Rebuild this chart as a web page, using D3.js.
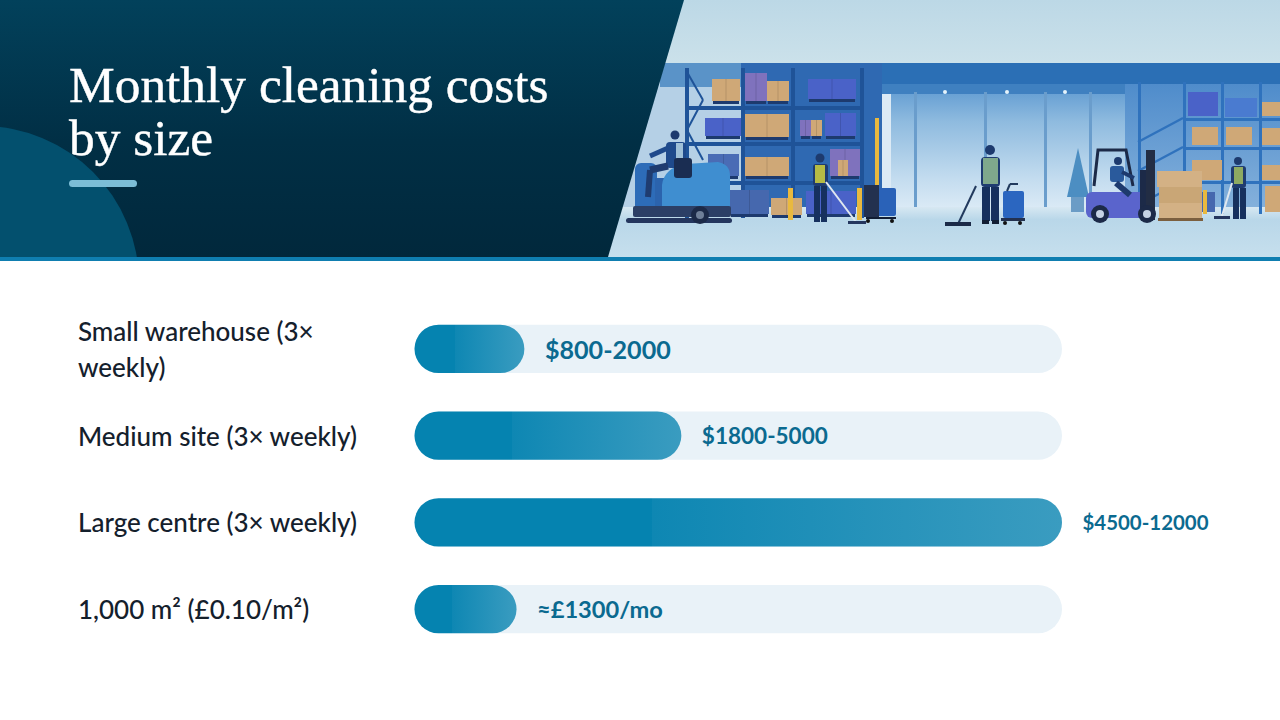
<!DOCTYPE html>
<html><head><meta charset="utf-8">
<script src="https://cdnjs.cloudflare.com/ajax/libs/d3/7.8.5/d3.min.js"></script>
<style>html,body{margin:0;padding:0;background:#fff}svg{display:block}</style>
</head><body><svg id="c" width="1280" height="720"></svg>
<script>
const titleLines = ["Monthly cleaning costs", "by size"];
const categories = ["Small warehouse (3× weekly)", "Medium site (3× weekly)", "Large centre (3× weekly)", "1,000 m² (£0.10/m²)"];
const values = [1400, 3400, 8250, 1300];
const valueLabels = ["$800-2000", "$1800-5000", "$4500-12000", "≈£1300/mo"];

const svg = d3.select("#c");
const defs = svg.append("defs");
function grad(id, x2, y2, stops){
  const g = defs.append("linearGradient").attr("id", id).attr("x1",0).attr("y1",0).attr("x2",x2).attr("y2",y2);
  stops.forEach(s => g.append("stop").attr("offset", s[0]).attr("stop-color", s[1]));
}
grad("hdr",0,1,[[0,"#02415b"],[0.55,"#012f45"],[1,"#01283c"]]);
grad("sky",0,1,[[0,"#bcd8e6"],[1,"#cbe1ea"]]);
grad("glass",0,1,[[0,"#5c98d0"],[0.3,"#8fbbdf"],[0.75,"#c3dcef"],[1,"#dcebf6"]]);
grad("floor",0,1,[[0,"#d7e8f2"],[0.25,"#b9d7e9"],[1,"#c6dfed"]]);
grad("rackbg",0,1,[[0,"#4f8ccb"],[1,"#86b2dc"]]);
grad("bar",1,0,[[0,"#0583b0"],[0.366,"#0583b0"],[0.367,"#0e87b3"],[1,"#3a9cc0"]]);
defs.append("clipPath").attr("id","hclip").append("polygon").attr("points","0,0 684,0 608,257 0,257");

// ---- header illustration (decoration) ----
const sc = svg.append("g");
const R = (x,y,w,h,f,r) => sc.append("rect").attr("x",x).attr("y",y).attr("width",w).attr("height",h).attr("fill",f).attr("rx",r||0);
const L = (x1,y1,x2,y2,c,w) => sc.append("line").attr("x1",x1).attr("y1",y1).attr("x2",x2).attr("y2",y2).attr("stroke",c).attr("stroke-width",w);
const C = (x,y,r,f) => sc.append("circle").attr("cx",x).attr("cy",y).attr("r",r).attr("fill",f);
const TAN="#cfa877", BLU="#4a62c8", PUR="#7f72bd", STEEL="#1f5398", NAVY="#1d3a6e", Y="#e9b93f";
R(600,0,680,63,"url(#sky)");
R(600,63,142,150,"#b5d0e6");
R(660,63,81,24,"#5a93c8");
R(741,63,141,152,"#2f69b2");
R(882,63,398,21,"#2b6fb5");
R(882,84,398,126,"url(#glass)");
R(882,84,9,126,"#dceaf5");
R(882,84,398,10,"#3f80c0");
[914,984,1044,1089].forEach(x=>R(x,92,3,115,"#6a9dcc"));
[950,1012,1070].forEach(x=>C(x-5,92,2,"#e6f3fb"));
R(1125,84,155,128,"url(#rackbg)");
R(600,207,680,50,"url(#floor)");
// left rack
[685,741,791,860].forEach(x=>R(x,68,4,150,STEEL));
[106,142,181].forEach(y=>R(685,y,179,4,STEEL));
L(687,72,703,100,STEEL,2);L(703,100,687,130,STEEL,2);L(687,130,703,160,STEEL,2);
[[712,79,28,22,TAN],[745,73,22,28,PUR],[767,81,22,20,TAN],[808,79,48,20,BLU],
 [705,118,36,18,BLU],[745,114,44,23,TAN],[800,120,11,16,PUR],[811,120,11,16,TAN],[825,113,31,23,BLU],
 [708,154,31,22,"#4a6cb5"],[745,157,44,19,TAN],[830,149,30,27,PUR],[838,160,10,16,TAN],
 [730,190,39,24,"#4668ae"],[771,198,31,17,TAN],[806,191,50,23,BLU]].forEach(b=>{
  R(b[0],b[1],b[2],b[3],b[4]);
  R(b[0]+1,b[1]+b[3],b[2]-2,3,NAVY);
  L(b[0]+b[2]/2,b[1],b[0]+b[2]/2,b[1]+b[3],"#000",0.5).attr("opacity",0.25);
});
R(875,118,4,68,Y);R(788,188,5,32,Y);R(857,188,5,32,Y);
// right rack
[1138,1183,1221,1259].forEach(x=>R(x,82,3,132,"#2f72bd"));
[118,147,181].forEach(y=>{R(1183,y,97,3,"#2f72bd");L(1138,y+24,1183,y,"#2f72bd",2.5);});
[[1188,92,30,24,BLU],[1225,98,32,19,"#4a7bd0"],[1262,102,18,14,TAN],
 [1192,127,26,18,TAN],[1226,127,26,18,TAN],[1262,128,18,17,TAN],
 [1192,160,30,20,TAN],[1262,165,18,15,TAN],[1265,186,15,26,TAN],[1190,192,25,20,"#4668ae"]].forEach(b=>R(b[0],b[1],b[2],b[3],b[4]));
R(1203,190,4,24,Y);
// scrubber
R(626,218,106,5,"#24365e",2.5);
R(635,163,22,50,"#2d6cb8",6);
R(655,178,30,38,"#2b63ad");
sc.append("path").attr("d","M662,215 L662,185 Q664,168 685,164 L718,162 Q730,164 730,176 L730,215 Z").attr("fill","#3f8ed0");
R(633,206,98,11,"#2c3f66",2);
C(700,215,9,"#1c2a48");C(700,215,4,"#6f7f98");
C(675,135,4.5,"#1d3a6e");
R(666,142,20,26,"#1f4a8c",4);R(676,143,7,22,"#9fc0d8");
L(668,148,650,156,"#1f4a8c",5);
L(668,166,650,170,"#1f3c70",7);L(650,170,648,197,"#1f3c70",6);
R(674,158,18,20,"#1a2d52",3);
// worker 1
C(820,158,4.5,"#1d3a6e");
R(813,164,15,22,"#1f3c70",3);R(815,165,10,18,"#b5bb45");
R(814,186,6,36,"#16305e");R(821,186,6,36,"#16305e");
L(826,182,856,222,"#dfe7ef",2);R(848,221,18,3,"#24365e");
// janitor cart
R(868,188,28,28,"#2a62b8",2);R(864,185,15,32,"#23314f");R(866,217,30,2,"#111d33");
C(868,221,2,"#111");C(892,221,2,"#111");
// worker 2
C(990,150,5,"#1d3a6e");
R(981,157,19,30,"#1f3c70",4);R(983,158,15,26,"#7fa88c");
R(982,187,8,34,"#16305e");R(991,187,8,34,"#16305e");
R(982,220,7,4,"#111d33");R(992,220,7,4,"#111d33");
L(976,186,958,224,"#223a5e",2);R(945,222,26,4,"#1b2a48");
R(1003,191,21,27,"#2b66c0",2);L(1007,191,1010,184,"#223a5e",2);L(1018,184,1010,184,"#223a5e",2);R(1001,218,24,3,"#23314f");
C(1005,223,2,"#111");C(1020,223,2,"#111");
// plant
R(1071,196,13,16,"#6b9cc6");
sc.append("polygon").attr("points","1078,148 1089,197 1067,197").attr("fill","#4c8ec2");
// forklift
sc.append("path").attr("d","M1094,186 L1098,150 L1126,150 L1133,186").attr("fill","none").attr("stroke","#1c2a48").attr("stroke-width",3);
R(1086,192,60,26,"#5a64cc",6);R(1140,170,14,48,"#1c2a48");R(1146,150,9,70,"#222d44");
C(1118,161,4,"#1d3a6e");R(1110,166,14,16,"#2a5a9c",3);L(1122,172,1134,178,"#1d3a6e",4);L(1116,183,1130,195,"#1d3a6e",6);
C(1100,214,9,"#1c2a48");C(1100,214,4,"#c6d3e4");C(1147,214,9,"#1c2a48");C(1147,214,4,"#c6d3e4");
// boxes on pallet
R(1157,171,45,16,"#d3b185");R(1159,187,43,16,"#c9a676");R(1159,203,43,15,"#d3b185");R(1158,218,45,3,"#7b5f3f");
// worker 3
C(1238,161,4,"#1d3a6e");
R(1231,166,15,22,"#1f3c70",3);R(1234,167,9,17,"#8eaa62");
R(1233,188,6,31,"#16305e");R(1240,188,6,31,"#16305e");
L(1232,183,1222,216,"#dfe7ef",2);R(1214,216,16,3,"#24365e");

// ---- dark panel ----
const h = svg.append("g");
h.append("polygon").attr("points","0,0 684,0 608,257 0,257").attr("fill","url(#hdr)");
h.append("circle").attr("cx",-18).attr("cy",283).attr("r",157).attr("fill","#03506e").attr("clip-path","url(#hclip)");
svg.append("rect").attr("x",0).attr("y",257).attr("width",1280).attr("height",4).attr("fill","#0f7eb0");

const title = h.append("text").attr("fill","#fff").attr("font-family","'Liberation Serif',serif").attr("font-size",51.4).attr("stroke","#fff").attr("stroke-width",0.4);
titleLines.forEach((t,i)=>title.append("tspan").attr("x",69).attr("y",102+i*53).text(t));
h.append("rect").attr("x",69).attr("y",180).attr("width",68).attr("height",7).attr("rx",3.5).attr("fill","#7cbdd6");

// ---- chart ----
const x = d3.scaleLinear().domain([0, d3.max(values)]).range([414.5, 1062]);
const y = d3.scaleBand().domain(categories).range([305.5, 652.5]).paddingInner(0.4444).paddingOuter(0.2222);
const rows = categories.map((c,i)=>({c, v:values[i], t:valueLabels[i]}));

const plot = svg.append("g");
plot.selectAll("rect.track").data(rows).join("rect").attr("class","track")
  .attr("x",x(0)).attr("y",d=>y(d.c)).attr("width",x.range()[1]-x(0)).attr("height",y.bandwidth())
  .attr("rx",y.bandwidth()/2).attr("fill","#e9f2f8");
plot.selectAll("rect.bar").data(rows).join("rect").attr("class","bar")
  .attr("x",x(0)).attr("y",d=>y(d.c)).attr("width",d=>x(d.v)-x(0)).attr("height",y.bandwidth())
  .attr("rx",y.bandwidth()/2).attr("fill","url(#bar)");

const axis = d3.axisLeft(y).tickSize(0).tickPadding(0);
const ag = svg.append("g").attr("transform","translate(78,0)").call(axis);
ag.select(".domain").remove();
ag.selectAll("text").attr("text-anchor","start").attr("x",0).attr("dy",null)
  .attr("dominant-baseline","central")
  .attr("font-family","Lato,sans-serif").attr("font-size",26).attr("font-weight",500).attr("fill","#14202c")
  .each(function(d){
    const m = d.match(/^(Small warehouse \(3×) (weekly\))$/);
    if(m){
      const s = d3.select(this).text("");
      s.append("tspan").attr("x",0).attr("dy","-0.69em").text(m[1]);
      s.append("tspan").attr("x",0).attr("dy","1.38em").text(m[2]);
    }
  });

const val = plot.selectAll("text.val").data(rows).join("text").attr("class","val")
  .attr("x",d=>x(d.v)+20.5).attr("y",d=>y(d.c)+y.bandwidth()/2).attr("dominant-baseline","central")
  .attr("font-family","Lato,sans-serif").attr("font-weight",700).attr("font-size",24).attr("fill","#0b6a90")
  .text(d=>d.t);
val.each(function(){
  const w = this.getComputedTextLength();
  d3.select(this).attr("font-size",24*126/w);
});
</script></body></html>
